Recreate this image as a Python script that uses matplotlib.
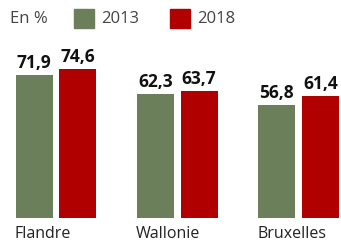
import matplotlib
matplotlib.use("Agg")
import matplotlib.pyplot as plt
from matplotlib.patches import Rectangle
import numpy as np

categories = ["Flandre", "Wallonie", "Bruxelles"]
years = ["2013", "2018"]
values_2013 = [71.9, 62.3, 56.8]
values_2018 = [74.6, 63.7, 61.4]
colors = ["#6b7f5b", "#b10000"]

W, H = 341, 241
fig = plt.figure(figsize=(W/100, H/100), dpi=100)
ax = fig.add_axes([0, 23/H, 1, 1 - 23/H])
x = np.arange(len(categories))
bw = 0.305
off = 0.18
b1 = ax.bar(x - off, values_2013, bw, color=colors[0])
b2 = ax.bar(x + off, values_2018, bw, color=colors[1])
for bars, vals in ((b1, values_2013), (b2, values_2018)):
    for r, v in zip(bars, vals):
        ax.text(r.get_x() + r.get_width()/2, v + 1.5, f"{v:.1f}".replace(".", ","),
                ha="center", va="bottom", fontsize=12.5, fontweight="bold",
                family="Open Sans", color="#111111")
ax.set_xlim(-0.462, 2.35)
ax.set_ylim(0, 109.5)
ax.axis("off")
for xi, c in zip(x, categories):
    ax.text(xi - off - bw/2 - 0.01, -4, c, ha="left", va="top", fontsize=11.5,
            family="Open Sans", color="#222222")

# legend
fig.text(10/W, 1 - 19/H, "En %", ha="left", va="center", fontsize=12,
         family="Open Sans", color="#444444")
for px, col, lab in ((74, colors[0], years[0]), (170, colors[1], years[1])):
    fig.patches.append(Rectangle((px/W, 1 - 28/H), 20/W, 19/H, color=col,
                                 transform=fig.transFigure))
    fig.text((px + 27)/W, 1 - 19/H, lab, ha="left", va="center", fontsize=12,
             family="Open Sans", color="#444444")

fig.savefig("out.png", dpi=100)
